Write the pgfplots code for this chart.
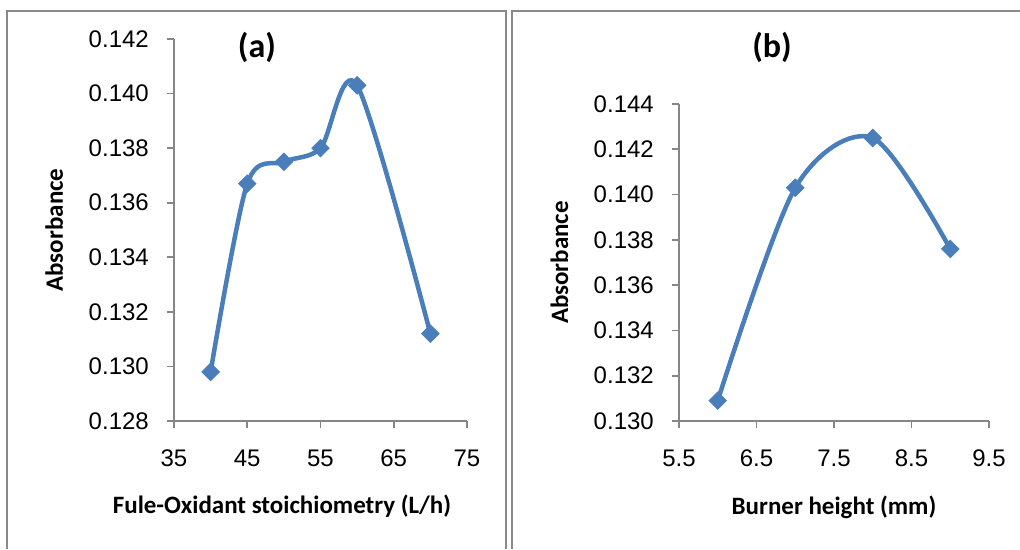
\documentclass[border=0pt]{standalone}
\usepackage{fontspec}
\setmainfont{Liberation Sans}
\newfontfamily\calibri{Carlito}
\usepackage{pgfplots}
\pgfplotsset{compat=1.18}
\definecolor{xlblue}{HTML}{4A7EBB}
\definecolor{axgray}{HTML}{868686}
\definecolor{boxgray}{HTML}{898989}

\pgfplotsset{
  panel/.style={
    scale only axis,
    axis lines=left,
    axis line style={-, axgray, line width=1.8pt},
    tick style={axgray, line width=1.8pt},
    tick align=outside,
    major tick length=7pt,
    minor tick num=0,
    clip=false,
    scaled ticks=false,
    tick label style={font=\fontsize{24}{28}\selectfont},
    yticklabel style={anchor=east, inner sep=0pt, xshift=-18pt},
    xticklabel style={anchor=center, inner sep=0pt, yshift=-30pt},
    /pgf/number format/assume math mode=true,
    label style={font=\calibri\bfseries\fontsize{25}{29}\selectfont, inner sep=0pt},
    title style={font=\calibri\bfseries\fontsize{34}{38}\selectfont, inner sep=0pt, anchor=center},
  },
  curve/.style={xlblue, line width=4.5pt, smooth, tension=0.5,
    mark=square*, mark size=6.2pt,
    mark options={rotate=45, line width=0.8pt, fill=xlblue, draw=xlblue}},
}

\begin{document}
\begin{tikzpicture}
\useasboundingbox (0,0) rectangle (1020pt,-549pt);
% panel frames
\draw[boxgray, line width=2pt] (7pt,-549pt) -- (7pt,-11pt) -- (506pt,-11pt) -- (506pt,-549pt);
\draw[boxgray, line width=2pt] (512pt,-549pt) -- (512pt,-11pt) -- (1020pt,-11pt);

% (a)
\begin{axis}[panel,
  at={(174pt,-421pt)}, anchor=south west,
  width=293pt, height=382pt,
  xmin=35, xmax=75, ymin=0.128, ymax=0.142,
  xtick={35,45,55,65,75},
  ytick={0.128,0.130,0.132,0.134,0.136,0.138,0.140,0.142},
  yticklabel style={/pgf/number format/fixed, /pgf/number format/fixed zerofill, /pgf/number format/precision=3},
  xlabel={Fule-Oxidant stoichiometry (L/h)},
  xlabel style={at={(axis description cs:0.3686,0)}, anchor=base, yshift=-92pt},
  ylabel={Absorbance},
  ylabel style={at={(axis description cs:0,0.5)}, anchor=base, yshift=111pt},
  title={(a)},
  title style={at={(axis description cs:0.283,0.961)}},
]
\addplot[curve] coordinates {(40,0.1298) (45,0.1367) (50,0.1375) (55,0.1380) (60,0.1403) (70,0.1312)};
\end{axis}

% (b)
\begin{axis}[panel,
  at={(679pt,-421pt)}, anchor=south west,
  width=310pt, height=317pt,
  xmin=5.5, xmax=9.5, ymin=0.130, ymax=0.144,
  xtick={5.5,6.5,7.5,8.5,9.5},
  ytick={0.130,0.132,0.134,0.136,0.138,0.140,0.142,0.144},
  yticklabel style={/pgf/number format/fixed, /pgf/number format/fixed zerofill, /pgf/number format/precision=3},
  xticklabel style={/pgf/number format/fixed, /pgf/number format/fixed zerofill, /pgf/number format/precision=1},
  xlabel={Burner height (mm)},
  xlabel style={at={(axis description cs:0.5,0)}, anchor=base, yshift=-93pt},
  ylabel={Absorbance},
  ylabel style={at={(axis description cs:0,0.5)}, anchor=base, yshift=111pt},
  title={(b)},
  title style={at={(axis description cs:0.3,1.158)}},
]
\addplot[curve] coordinates {(6,0.1309) (7,0.1403) (8,0.1425) (9,0.1376)};
\end{axis}
\end{tikzpicture}
\end{document}
